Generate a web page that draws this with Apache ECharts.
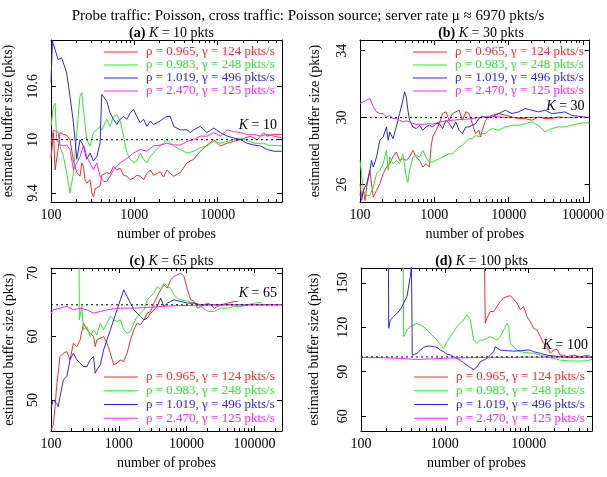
<!DOCTYPE html>
<html><head><meta charset="utf-8">
<script src="https://cdn.jsdelivr.net/npm/echarts@6/dist/echarts.min.js"></script>
<style>html,body{margin:0;padding:0;background:#fff}#c{width:607px;height:477px}</style>
</head><body><div id="c"></div><script>
// ---------- text ----------
const mainTitle = 'Probe traffic: Poisson, cross traffic: Poisson source; server rate μ ≈ 6970 pkts/s';
const panelLetters = ['(a)', '(b)', '(c)', '(d)'];
const bufferK = [10, 30, 65, 100];
const seriesNames = ['ρ = 0.965, γ = 124 pkts/s', 'ρ = 0.983, γ = 248 pkts/s', 'ρ = 1.019, γ = 496 pkts/s', 'ρ = 2.470, γ = 125 pkts/s'];
const xAxisTitle = 'number of probes';
const yAxisTitle = 'estimated buffer size (pkts)';
// ---------- axes ----------
const xMin = [100, 100, 100, 100];
const xMax = [59000, 122700, 255000, 57000];
const yMin = [9.3, 24.95, 45.1, 50];
const yMax = [11.12, 34.64, 70.8, 160];
const xTickLabels = [[100, 1000, 10000], [100, 1000, 10000, 100000], [100, 1000, 10000, 100000], [100, 1000, 10000]];
const yTickLabels = [[9.4, 10, 10.6], [26, 30, 34], [50, 60, 70], [60, 90, 120, 150]];
// ---------- data: [number of probes, estimated buffer size] ----------
const aRed = [[100,9.79],[107,10.08],[112,9.66],[122,9.9],[128,10.08],[141,10.06],[154,10.05],[169,10.0],[186,9.76],[204,9.63],[223,9.59],[234,9.74],[245,9.7],[256,9.55],[268,9.51],[294,9.55],[310,9.4],[323,9.36],[340,9.45],[354,9.44],[388,9.48],[406,9.6],[426,9.59],[467,9.63],[512,9.62],[561,9.7],[616,9.66],[676,9.68],[741,9.6],[813,9.59],[891,9.55],[977,9.57],[1072,9.6],[1175,9.59],[1288,9.55],[1413,9.62],[1550,9.66],[1698,9.6],[2042,9.64],[2239,9.58],[2450,9.66],[2698,9.62],[2958,9.59],[3556,9.63],[4276,9.74],[5140,9.78],[6170,9.87],[7447,9.94],[8954,10.0],[10770,9.93],[12950,9.96],[15500,9.98],[18710,10.0],[24500,10.04],[29720,10.0],[35730,10.08],[38900,10.04],[47100,10.06],[59000,10.06]];
const aGreen = [[100,10.15],[107,10.38],[112,10.41],[117,10.0],[128,9.93],[141,9.81],[154,9.63],[169,9.4],[186,9.63],[204,10.08],[223,10.49],[234,10.53],[245,10.34],[268,10.0],[294,9.93],[323,10.08],[354,10.11],[388,10.15],[406,10.11],[467,10.23],[512,10.15],[561,10.26],[616,10.28],[676,10.21],[741,10.04],[813,9.85],[891,9.78],[977,9.74],[1072,9.76],[1175,9.85],[1288,9.78],[1413,9.74],[1550,9.81],[1698,9.85],[2042,9.93],[2239,9.96],[2450,10.0],[2958,9.93],[3556,9.89],[4276,9.85],[5140,9.87],[6170,9.91],[7447,9.93],[8954,9.98],[10770,9.96],[12950,9.98],[15500,10.0],[18710,10.02],[27100,9.96],[35730,9.96],[38900,9.94],[59000,9.93]];
const aBlue = [[100,10.64],[104,11.11],[112,11.01],[122,10.9],[128,10.88],[134,10.92],[141,10.86],[154,10.75],[169,10.49],[186,10.19],[204,9.78],[223,10.0],[245,9.93],[268,9.78],[294,9.85],[323,9.76],[354,9.81],[388,9.96],[406,10.51],[426,10.53],[467,10.43],[512,10.3],[561,10.23],[616,10.17],[676,10.23],[741,10.26],[813,10.23],[891,10.3],[977,10.34],[1072,10.26],[1175,10.19],[1288,10.23],[1413,10.15],[1550,10.21],[1698,10.17],[2042,10.21],[2239,10.24],[2450,10.26],[2698,10.26],[2958,10.15],[3556,10.11],[4276,10.11],[4688,10.08],[5140,10.11],[6170,10.15],[7447,10.08],[8954,10.13],[10770,10.08],[12950,10.04],[15500,10.02],[18710,10.0],[22530,9.96],[27100,9.94],[32600,9.93],[38900,9.89],[47100,9.87],[59000,9.87]];
const aMagenta = [[100,9.96],[107,10.11],[112,10.09],[122,10.08],[128,9.94],[141,9.93],[154,9.94],[169,9.89],[186,9.66],[204,9.74],[223,9.81],[245,9.94],[256,9.89],[268,9.81],[294,9.74],[323,9.66],[354,9.74],[388,9.59],[426,9.53],[467,9.53],[512,9.59],[561,9.66],[676,9.74],[813,9.79],[977,9.85],[1175,9.89],[1413,9.87],[1698,9.93],[2042,9.94],[2450,9.96],[2958,9.94],[3556,9.94],[4276,9.98],[5140,10.0],[6170,10.04],[7447,10.04],[8954,10.08],[10770,10.04],[12950,10.11],[15500,10.09],[18710,10.08],[22530,10.06],[27100,10.06],[32600,10.04],[38900,10.06],[47100,10.04],[59000,10.02]];

const bRed = [[100,26.04],[105,25.24],[111,25.64],[117,25.04],[123,25.84],[136,26.84],[143,26.04],[151,25.24],[167,25.64],[185,26.04],[205,26.64],[227,27.04],[251,27.24],[278,27.64],[308,27.94],[341,27.44],[378,27.54],[419,27.44],[464,27.64],[514,28.04],[570,27.64],[631,27.44],[699,27.04],[774,27.24],[858,27.04],[903,28.24],[950,28.84],[1052,29.24],[1166,29.64],[1292,30.24],[1431,30.34],[1585,29.84],[1756,30.24],[1945,30.34],[2154,30.44],[2387,29.84],[2644,30.34],[2929,30.24],[3245,29.64],[3594,29.04],[3981,29.24],[4190,28.84],[4410,29.24],[4886,29.84],[5412,30.04],[5995,30.14],[7356,30.24],[9027,30.14],[11080,30.04],[13590,29.94],[16680,29.94],[20470,29.84],[25120,30.04],[30820,29.94],[37820,29.94],[46420,30.04],[56960,30.0]];
const bGreen = [[100,27.44],[105,26.64],[111,25.64],[123,25.34],[136,25.34],[151,25.84],[167,26.64],[185,26.84],[205,27.24],[227,28.04],[239,26.84],[251,27.64],[278,27.24],[308,27.44],[341,27.24],[378,27.84],[419,26.44],[441,26.14],[464,26.84],[514,27.64],[570,27.74],[631,27.64],[699,28.04],[774,27.64],[858,27.34],[950,27.34],[1052,27.44],[1166,27.54],[1292,27.64],[1431,27.74],[1585,27.84],[1756,27.84],[1945,28.04],[2154,28.24],[2387,28.34],[2644,28.54],[2929,28.74],[3245,28.74],[3594,28.94],[3981,28.84],[4410,29.04],[4886,29.04],[5412,29.24],[5995,29.34],[7356,29.24],[9027,29.44],[11080,29.54],[13590,29.54],[16680,29.64],[20470,29.74],[25120,29.54],[30820,29.14],[37820,29.34],[46420,29.44],[56960,29.44],[69900,29.54],[85770,29.64],[100000,29.68],[122700,29.68]];
const bBlue = [[100,25.44],[105,25.04],[111,25.64],[123,26.04],[136,26.84],[143,27.44],[151,27.04],[167,27.64],[185,28.64],[205,28.84],[227,29.44],[239,28.64],[251,29.14],[278,28.74],[308,29.44],[341,30.24],[378,31.04],[398,31.54],[419,31.24],[441,30.44],[464,29.84],[514,29.44],[570,29.34],[631,29.54],[699,29.24],[774,29.44],[858,29.54],[950,29.44],[1052,29.64],[1166,29.64],[1292,29.34],[1431,29.84],[1585,29.64],[1756,29.34],[1945,29.74],[2154,29.24],[2387,29.04],[2644,29.44],[2929,29.44],[3245,29.54],[3594,29.64],[3981,29.94],[4410,30.08],[4886,30.0],[5995,30.04],[7356,30.24],[9027,30.44],[11080,30.24],[13590,30.34],[16680,30.54],[20470,30.44],[25120,30.34],[30820,30.44],[37820,30.24],[46420,30.28],[56960,30.34],[69900,30.14],[85770,30.08],[100000,30.04],[122700,30.0]];
const bMagenta = [[100,30.84],[111,30.94],[123,31.04],[136,31.14],[151,30.64],[167,30.34],[185,30.24],[205,30.24],[227,30.04],[251,30.14],[278,29.94],[308,29.94],[341,29.84],[378,29.74],[419,29.8],[464,29.74],[514,29.64],[570,29.6],[699,29.6],[858,29.64],[950,29.6],[1166,29.74],[1431,29.8],[1756,29.84],[2154,29.88],[2644,29.9],[3245,29.94],[3981,30.0],[4886,30.04],[5995,30.08],[7356,30.04],[9027,30.0],[20470,30.0],[56960,30.0],[85770,30.0]];

const cRed = [[100,45.26],[108,46.05],[115,48.95],[121,52.11],[136,56.84],[152,57.37],[171,57.63],[191,56.32],[214,58.95],[240,58.42],[269,59.47],[302,62.11],[338,61.05],[379,60.53],[424,60],[449,58.42],[476,59.47],[533,59.74],[597,60],[669,58.95],[750,57.37],[840,55.53],[942,55.79],[1055,56.32],[1182,56.05],[1324,57.37],[1485,59.47],[1663,61.05],[1863,62.11],[2089,61.84],[2340,62.63],[2623,63.68],[2939,63.95],[3294,65.26],[3690,66.32],[4135,67.37],[4633,68.16],[4909,68.42],[5193,67.63],[5818,68.95],[6520,69.47],[7306,69.74],[8186,70],[9172,69.47],[10280,67.37],[11510,65.79],[12900,65.53],[14460,64.47],[16200,64.74],[18150,65],[20350,65.26],[22800,65],[25550,64.47],[28640,64.74],[32080,65],[40280,65.26],[50580,65.53],[56640,65.53]];
const cGreen = [[258,76],[262,62.63],[285,64.74],[302,61.05],[338,61.58],[379,60],[424,61.05],[476,60.26],[533,62.11],[597,61.05],[669,62.11],[750,63.16],[840,62.63],[942,62.37],[1055,62.63],[1182,61.05],[1324,60.53],[1485,60.79],[1663,62.11],[1863,63.16],[2089,63.68],[2340,64.21],[2623,65.79],[2939,66.32],[3294,66.84],[3690,67.89],[4135,67.37],[4633,68.42],[5193,67.89],[5818,67.63],[6520,66.58],[7306,66.05],[8186,65.79],[10280,65.53],[12900,65.26],[16200,64.74],[20350,63.95],[25550,63.95],[32080,64.47],[40280,64.47],[50580,64.74],[63510,64.74],[79740,65],[100000,65.26],[125700,65.37]];
const cBlue = [[100,48.68],[108,50],[121,49.47],[128,48.95],[136,50.53],[152,53.16],[171,53.68],[191,56.32],[214,57.37],[240,56.32],[269,55.79],[302,55.26],[338,55.26],[379,56.32],[424,56.84],[449,54.21],[476,54.74],[533,55.53],[597,57.89],[669,59.47],[750,61.05],[840,62.63],[942,64.21],[1055,65.79],[1182,67.37],[1324,66.32],[1485,65.26],[1663,64.21],[1863,63.68],[2089,63.16],[2340,62.63],[2623,62.89],[2939,63.68],[3294,64.21],[3690,64.74],[4135,66.05],[4633,64.74],[5193,65.26],[5818,65.53],[6520,65.79],[8186,65.53],[10280,65.26],[12900,65.26],[16200,65],[25550,65],[50580,65],[100000,65],[248900,65]];
const cMagenta = [[100,63.68],[108,64.21],[136,64.47],[171,64.74],[191,64.47],[214,64.21],[269,64.47],[338,64.21],[424,63.68],[533,63.95],[669,64.21],[840,64.37],[1055,64.47],[1663,64.47],[2623,64.58],[4135,64.74],[6520,64.84],[10280,64.89],[16200,64.95],[50580,65],[248900,65]];

const dRed = [[2958,170],[3041,122.7],[3184,126.1],[3489,130.6],[3824,130.6],[4190,134],[4592,137.4],[5032,139.7],[5515,140.8],[6044,141.3],[6623,139],[7258,136.3],[7954,131.8],[8716,134],[9552,127.2],[10470,123.8],[11470,119.3],[12570,118.2],[13780,113.7],[15100,109.1],[16550,106.9],[18130,102.4],[19870,104.6],[21780,105.1],[23870,101.2],[26140,101.2],[28670,100.1],[34430,101.2],[41340,100.1],[45290,100.6],[49650,101.2],[56900,99.7]];
const dGreen = [[318,170],[323,113.7],[354,118.2],[388,120.5],[425,121.6],[466,122.7],[510,121.6],[559,120.5],[613,118.2],[672,115.9],[736,113.7],[807,111.4],[884,108],[969,105.8],[1062,110.3],[1164,113.7],[1275,117.1],[1397,120.5],[1531,122.7],[1678,125],[1838,128.4],[2015,125],[2110,118.2],[2208,111.4],[2420,109.1],[2651,111.4],[2905,111.4],[3184,112.5],[3489,113.7],[3824,112.5],[4190,111.4],[4592,113.7],[5032,118.2],[5515,122.7],[5770,120.5],[6044,109.1],[6623,106.9],[7258,104.6],[7954,103.5],[9552,102.8],[11470,102.4],[13780,101.2],[16550,100.1],[19870,99],[23870,97.8],[28670,97.4],[34430,97.2],[41340,97.2],[49650,97.4],[56900,98.3]];
const dBlue = [[212,175],[214,119.3],[224,125],[245,127.2],[269,129.5],[294,131.8],[323,136.3],[354,140.8],[388,154.4],[400,162],[409,101.2],[425,100.1],[466,102.4],[510,104.6],[559,106.4],[613,107.3],[672,107.3],[736,106.9],[807,106.4],[884,104.6],[969,103.5],[1062,101.9],[1164,101.2],[1275,100.1],[1397,99],[1531,97.8],[1678,96],[1838,94.5],[2015,92.9],[2208,91.5],[2420,93.3],[2651,96.7],[2905,97.8],[3184,99],[3489,101.2],[3824,103.5],[4000,106.9],[4190,105.8],[4592,104.6],[5515,104.2],[6623,103.9],[7954,104.2],[9552,104.6],[10470,104.6],[11470,103.5],[13780,102.4],[16550,101.2],[19870,100.6],[23870,100.1],[28670,99.7],[41340,99.7],[56900,99.7]];
const dMagenta = [[100,99.7],[186,99.4],[294,99],[466,98.3],[736,98.7],[1164,99.2],[1838,99.4],[2905,99.7],[7258,99.7],[18130,99.9],[56900,99.7]];

const panelData = [[aRed, aGreen, aBlue, aMagenta], [bRed, bGreen, bBlue, bMagenta], [cRed, cGreen, cBlue, cMagenta], [dRed, dGreen, dBlue, dMagenta]];

// ---------- styling / layout ----------
const FONT = '"Liberation Serif","Times New Roman",serif';
const colors = ['#ff2a2a', '#2ee82e', '#2a2ae6', '#f52af5'];
const grids = [
  {left: 51, top: 40, width: 231, height: 162},
  {left: 360, top: 40, width: 232, height: 162},
  {left: 51, top: 268, width: 231, height: 163},
  {left: 361, top: 268, width: 231, height: 163}
];
const legendPos = [{left: 104, top: 45.5, lh: 12.4}, {left: 413, top: 45.5, lh: 12.4}, {left: 104, top: 370, lh: 13.8}, {left: 414, top: 370, lh: 13.8}];
const kLabelOffset = [[-5, -7], [-5, -4], [-5, -4], [-4, -5]];
const yNameGap = [36, 38, 35, 40];

function minorTicks(lo, hi) {
  const out = [];
  for (let e = Math.floor(Math.log10(lo)); e <= Math.ceil(Math.log10(hi)); e++) {
    for (let m = 2; m <= 9; m++) { const v = m * Math.pow(10, e); if (v > lo && v < hi) out.push(v); }
  }
  return out;
}

const xAxes = [], yAxes = [], series = [], legends = [], titles = [];
titles.push({text: mainTitle, left: 303, top: 4, textAlign: 'center',
  textStyle: {fontFamily: FONT, fontSize: 15, fontWeight: 'normal', color: '#000'}});

grids.forEach((g, i) => {
  const common = {gridIndex: i, type: 'log', logBase: 10, min: xMin[i], max: xMax[i], splitLine: {show: false}};
  const minors = minorTicks(xMin[i], xMax[i]);
  xAxes.push(Object.assign({}, common, {position: 'bottom',
    axisLine: {show: true, lineStyle: {color: '#000', width: 1}},
    axisTick: {show: true, inside: true, length: 5, customValues: xTickLabels[i], lineStyle: {color: '#000'}},
    axisLabel: {show: true, customValues: xTickLabels[i], margin: 6, color: '#000', fontFamily: FONT, fontSize: 14,
      formatter: v => String(Math.round(v))},
    name: xAxisTitle, nameLocation: 'middle', nameGap: 25,
    nameTextStyle: {fontFamily: FONT, fontSize: 14, color: '#000'}}));
  xAxes.push(Object.assign({}, common, {position: 'bottom', axisLine: {show: false},
    axisTick: {show: true, inside: true, length: 3, customValues: minors, lineStyle: {color: '#000'}},
    axisLabel: {show: false}}));
  xAxes.push(Object.assign({}, common, {position: 'top',
    axisLine: {show: true, lineStyle: {color: '#000', width: 1}},
    axisTick: {show: true, inside: true, length: 5, customValues: xTickLabels[i], lineStyle: {color: '#000'}},
    axisLabel: {show: false}}));
  xAxes.push(Object.assign({}, common, {position: 'top', axisLine: {show: false},
    axisTick: {show: true, inside: true, length: 3, customValues: minors, lineStyle: {color: '#000'}},
    axisLabel: {show: false}}));
  const yc = {gridIndex: i, type: 'value', min: yMin[i], max: yMax[i], splitLine: {show: false}};
  yAxes.push(Object.assign({}, yc, {position: 'left',
    axisLine: {show: true, lineStyle: {color: '#000', width: 1}},
    axisTick: {show: true, inside: true, length: 5, customValues: yTickLabels[i], lineStyle: {color: '#000'}},
    axisLabel: {show: true, customValues: yTickLabels[i], rotate: 90, margin: 11, color: '#000', fontFamily: FONT, fontSize: 14},
    name: yAxisTitle, nameLocation: 'middle', nameGap: yNameGap[i],
    nameTextStyle: {fontFamily: FONT, fontSize: 14, color: '#000'}}));
  yAxes.push(Object.assign({}, yc, {position: 'right',
    axisLine: {show: true, lineStyle: {color: '#000', width: 1}},
    axisTick: {show: true, inside: true, length: 5, customValues: yTickLabels[i], lineStyle: {color: '#000'}},
    axisLabel: {show: false}}));

  titles.push({text: '{b|' + panelLetters[i] + '} {i|K} = ' + bufferK[i] + ' pkts',
    left: g.left + g.width / 2, top: g.top - 19, textAlign: 'center',
    textStyle: {fontFamily: FONT, fontSize: 14, fontWeight: 'normal', color: '#000',
      rich: {b: {fontFamily: FONT, fontSize: 14, fontWeight: 'bold', color: '#000'},
             i: {fontFamily: FONT, fontSize: 14, fontStyle: 'italic', color: '#000'}}}});

  panelData[i].forEach((d, k) => {
    series.push({type: 'line', name: seriesNames[k], xAxisIndex: 4 * i, yAxisIndex: 2 * i, data: d,
      symbol: 'none', clip: true, silent: true, animation: false,
      lineStyle: {width: 1, color: colors[k]}, itemStyle: {color: colors[k]}});
  });
  series.push({type: 'line', name: 'K', xAxisIndex: 4 * i, yAxisIndex: 2 * i,
    data: [[xMin[i], bufferK[i]], [xMax[i], bufferK[i]]], symbol: 'none', silent: true, animation: false, z: 5,
    lineStyle: {width: 1, color: '#000', type: [2, 3]},
    markPoint: {symbol: 'circle', symbolSize: 0, silent: true, animation: false,
      data: [{coord: [xMax[i], bufferK[i]], label: {show: true, position: [0, 0], align: 'right', verticalAlign: 'bottom',
        offset: kLabelOffset[i], formatter: '{i|K} = ' + bufferK[i], color: '#000', fontFamily: FONT, fontSize: 14,
        rich: {i: {fontFamily: FONT, fontSize: 14, fontStyle: 'italic', color: '#000'}}}}]}});

  legends.push({orient: 'vertical', left: legendPos[i].left, top: legendPos[i].top, itemWidth: 34, itemHeight: 1,
    itemGap: 0, selectedMode: false, padding: 0, icon: 'rect',
    data: seriesNames.map((n, k) => ({name: n, icon: 'rect', itemStyle: {color: colors[k]}, textStyle: {color: colors[k]}})),
    textStyle: {fontFamily: FONT, fontSize: 13, lineHeight: legendPos[i].lh, padding: [0, 0, 0, 3]}});
});

const chart = echarts.init(document.getElementById('c'), null, {renderer: 'canvas'});
chart.setOption({
  backgroundColor: '#fff', animation: false,
  title: titles, grid: grids, xAxis: xAxes, yAxis: yAxes, series: series, legend: legends
});
</script></body></html>
